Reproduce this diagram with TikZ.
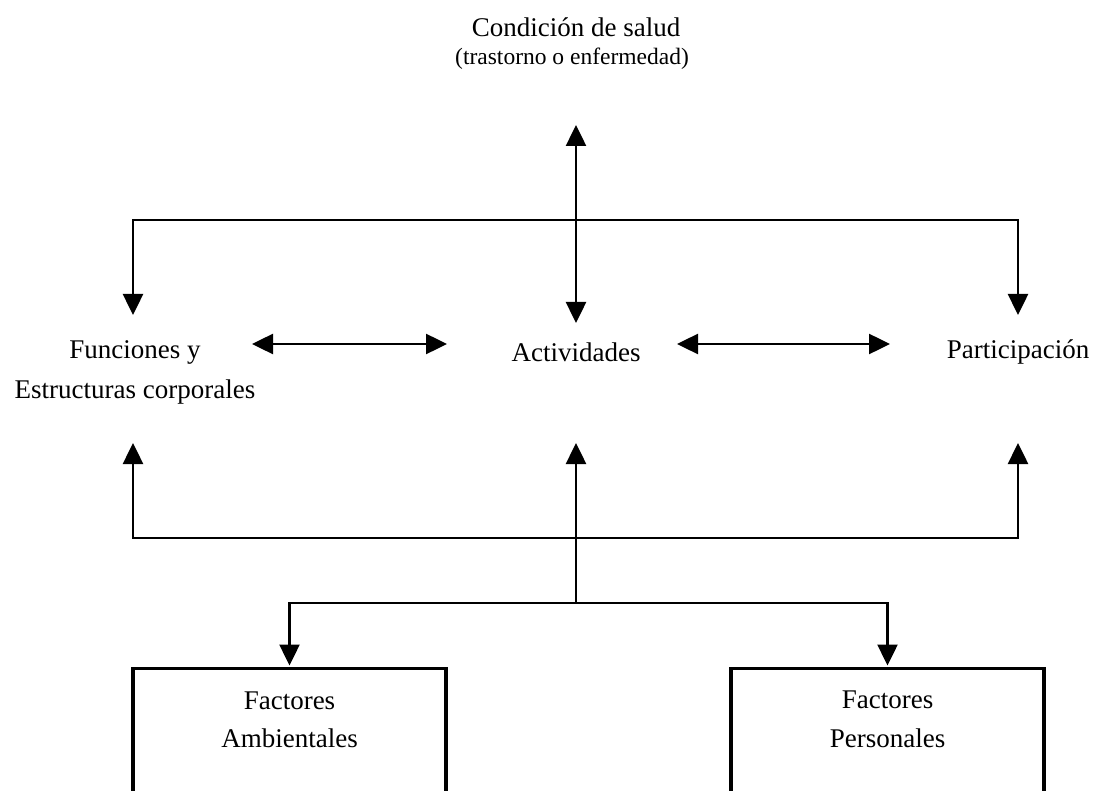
\documentclass[tikz,border=0pt]{standalone}
\usepackage{fontspec}
\setmainfont{Liberation Serif}
\usetikzlibrary{arrows.meta}
\begin{document}
\begin{tikzpicture}[x=1pt,y=-1pt,
  lbl/.style={inner sep=0pt,anchor=base,font=\fontsize{27}{32}\selectfont},
  sub/.style={inner sep=0pt,anchor=base,font=\fontsize{23.5}{28}\selectfont},
  conn/.style={line width=2.5pt,line join=miter},
  arr/.style={conn,-{Triangle[length=21pt,width=20pt]}},
  darr/.style={conn,{Triangle[length=21pt,width=20pt]}-{Triangle[length=21pt,width=20pt]}},
  fbox/.style={draw,line width=3.2pt,minimum width=313pt,minimum height=200pt,anchor=north,inner sep=0pt}
]
\useasboundingbox (0,0) rectangle (1097,791);
\clip (0,0) rectangle (1097,791);
% texts
\node[lbl] (cs) at (576,37) {Condición de salud};
\node[sub] (cs2) at (572,65) {(trastorno o enfermedad)};
\node[lbl] (fun1) at (135,358) {Funciones y};
\node[lbl] (fun2) at (135,398) {Estructuras corporales};
\node[lbl] (act) at (576,361) {Actividades};
\node[lbl] (par) at (1018,358) {Participación};
% boxes
\node[fbox] (amb) at (289.5,667) {};
\node[lbl] (amb1) at (289.5,709) {Factores};
\node[lbl] (amb2) at (289.5,747) {Ambientales};
\node[fbox] (per) at (887.5,667) {};
\node[lbl] (per1) at (887.5,708) {Factores};
\node[lbl] (per2) at (887.5,747) {Personales};
% coordinates
\coordinate (ctop) at (576,125);
\coordinate (cbot) at (576,323);
\coordinate (tl) at (133,220);
\coordinate (tr) at (1018,220);
\coordinate (fdn) at (133,315);
\coordinate (pdn) at (1018,315);
\coordinate (la) at (252,344);
\coordinate (lb) at (447,344);
\coordinate (ra) at (677,344);
\coordinate (rb) at (890,344);
\coordinate (bl) at (133,538);
\coordinate (bm) at (576,538);
\coordinate (br) at (1018,538);
\coordinate (ful) at (133,443);
\coordinate (acu) at (576,443);
\coordinate (pau) at (1018,443);
\coordinate (jn) at (576,603);
\coordinate (jl) at (289.5,603);
\coordinate (jr) at (887.5,603);
% connectors
\draw[darr] (cbot) -- (ctop);
\draw[arr] (tr) -- (tl) -- (fdn);
\draw[arr] (tl) -- (tr) -- (pdn);
\draw[darr] (la) -- (lb);
\draw[darr] (ra) -- (rb);
\draw[arr] (br) -- (bl) -- (ful);
\draw[arr] (bl) -- (br) -- (pau);
\draw[arr] (jn) -- (acu);
\draw[arr] (jr) -- (jl) -- ([yshift=1.5pt]amb.north);
\draw[arr] (jl) -- (jr) -- ([yshift=1.5pt]per.north);
\end{tikzpicture}
\end{document}
